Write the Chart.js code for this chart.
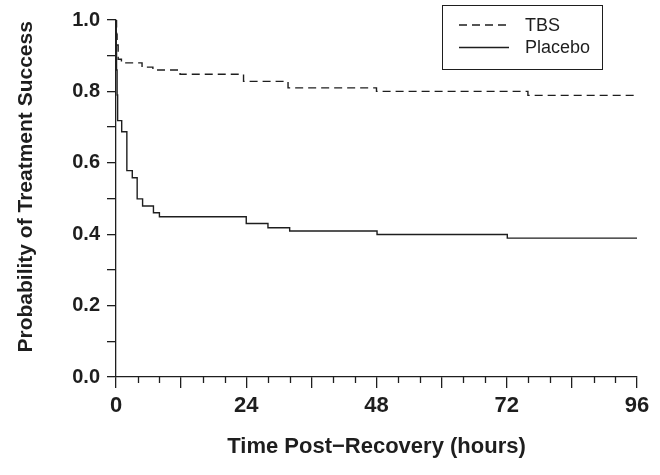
<!DOCTYPE html>
<html>
<head>
<meta charset="utf-8">
<script src="https://cdn.jsdelivr.net/npm/chart.js@4.4.1/dist/chart.umd.min.js"></script>
<style>
  html, body { margin: 0; padding: 0; background: #fff; }
</style>
</head>
<body>
<canvas id="kmChart" width="660" height="475"></canvas>
<script>
// Kaplan-Meier steps (hours, probability after each event)
const tbsHours = [0, 0.1, 0.2, 0.4, 1.0, 4.8, 6.8, 11.8, 23.5, 31.7, 48.0, 75.9, 96];
const tbsValues = [1.0, 0.96, 0.93, 0.89, 0.88, 0.868, 0.86, 0.848, 0.828, 0.81, 0.80, 0.789, 0.789];

const placeboHours = [0, 0.05, 0.1, 0.2, 0.3, 1.05, 2.0, 3.0, 3.9, 4.9, 6.9, 8.0, 24.0, 28.0, 32.0, 48.1, 72.1, 96];
const placeboValues = [1.0, 0.93, 0.86, 0.79, 0.718, 0.687, 0.578, 0.558, 0.499, 0.479, 0.46, 0.449, 0.43, 0.418, 0.409, 0.399, 0.389, 0.389];

const seriesLabels = ['TBS', 'Placebo'];
const xLabelHours = [0, 24, 48, 72, 96];
const yLabelValues = [0.0, 0.2, 0.4, 0.6, 0.8, 1.0];

const ink = '#1e1e1e';
const fontFamily = '"Liberation Sans", Arial, Helvetica, sans-serif';

function toPoints(xs, ys) {
  return xs.map((x, i) => ({ x: x, y: ys[i] }));
}

// short ticks every 4 h between the 12 h ticks
const minorTicks = {
  id: 'minorTicks',
  afterDraw(chart) {
    const ctx = chart.ctx;
    const xs = chart.scales.x;
    const bottom = chart.chartArea.bottom;
    ctx.save();
    ctx.strokeStyle = ink;
    ctx.lineWidth = 1.3;
    for (let h = 4; h < 96; h += 4) {
      if (h % 12 === 0) continue;
      const px = Math.round(xs.getPixelForValue(h)) + 0.5;
      ctx.beginPath();
      ctx.moveTo(px, bottom);
      ctx.lineTo(px, bottom + 6);
      ctx.stroke();
    }
    ctx.restore();
  },
};

// boxed legend in the top right corner
const boxLegend = {
  id: 'boxLegend',
  afterDraw(chart) {
    const ctx = chart.ctx;
    const area = chart.chartArea;
    const left = area.right - 195;
    const top = 5;
    ctx.save();
    ctx.strokeStyle = ink;
    ctx.lineWidth = 1;
    ctx.strokeRect(left + 0.5, top + 0.5, 160, 64);
    ctx.font = '18px ' + fontFamily;
    ctx.fillStyle = ink;
    ctx.textBaseline = 'middle';
    chart.data.datasets.forEach((ds, i) => {
      const y = top + 20 + i * 22.5;
      ctx.lineWidth = ds.borderWidth;
      ctx.setLineDash(ds.borderDash || []);
      ctx.beginPath();
      ctx.moveTo(left + 17, y);
      ctx.lineTo(left + 67, y);
      ctx.stroke();
      ctx.setLineDash([]);
      ctx.fillText(ds.label, left + 83, y + 1);
    });
    ctx.restore();
  },
};

function main() {
  const ctx = document.getElementById('kmChart');
  new Chart(ctx, {
    type: 'line',
    data: {
      datasets: [
        {
          label: seriesLabels[0],
          data: toPoints(tbsHours, tbsValues),
          borderColor: ink,
          borderWidth: 1.4,
          borderDash: [8, 5],
          stepped: true,
          pointRadius: 0,
          fill: false,
        },
        {
          label: seriesLabels[1],
          data: toPoints(placeboHours, placeboValues),
          borderColor: ink,
          borderWidth: 1.4,
          stepped: true,
          pointRadius: 0,
          fill: false,
        },
      ],
    },
    options: {
      responsive: false,
      animation: false,
      layout: { padding: { top: 20, right: 23, bottom: 0, left: 0 } },
      plugins: {
        legend: { display: false },
        tooltip: { enabled: false },
      },
      scales: {
        x: {
          type: 'linear',
          min: 0,
          max: 96,
          afterFit: (scale) => { scale.height = 98; },
          ticks: {
            stepSize: 12,
            autoSkip: false,
            maxRotation: 0,
            padding: 5,
            color: ink,
            font: { family: fontFamily, size: 22, weight: 'bold' },
            callback: (v) => (xLabelHours.includes(v) ? String(v) : ''),
          },
          grid: { drawOnChartArea: false, tickLength: 11, color: ink, lineWidth: 1.3 },
          border: { color: ink, width: 1.3 },
          title: {
            display: true,
            text: 'Time Post\u2212Recovery (hours)',
            color: ink,
            font: { family: fontFamily, size: 22, weight: 'bold' },
            padding: { top: 0, bottom: 15 },
          },
        },
        y: {
          min: 0,
          max: 1,
          afterFit: (scale) => { scale.width = 116; },
          ticks: {
            stepSize: 0.1,
            autoSkip: false,
            padding: 7,
            color: ink,
            font: { family: fontFamily, size: 20, weight: 'bold' },
            callback: (v) => {
              const r = Math.round(v * 10) / 10;
              return yLabelValues.some((t) => Math.abs(t - r) < 1e-9) ? r.toFixed(1) : '';
            },
          },
          grid: { drawOnChartArea: false, tickLength: 9, color: ink, lineWidth: 1.3 },
          border: { color: ink, width: 1.3 },
          title: {
            display: true,
            text: '    Probability of Treatment Success',
            color: ink,
            font: { family: fontFamily, size: 21, weight: 'bold' },
            padding: { top: 14, bottom: 0 },
          },
        },
      },
    },
    plugins: [minorTicks, boxLegend],
  });
}

main();
</script>
</body>
</html>
